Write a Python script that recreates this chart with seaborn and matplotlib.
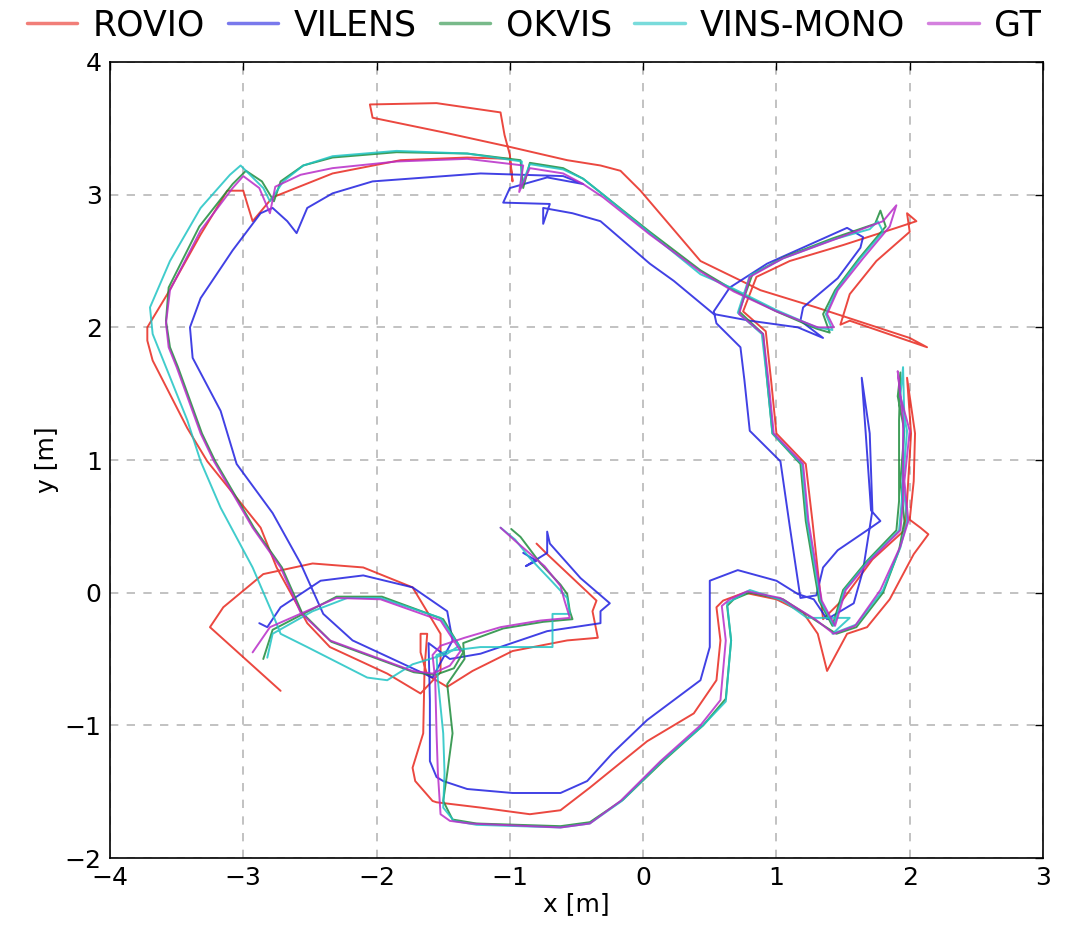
import pandas as pd
import matplotlib
matplotlib.use('Agg')
import matplotlib.pyplot as plt
import seaborn as sns

# trajectories, (x, y) in metres
rovio_xy = [
    (-0.80, 0.37), (-0.72, 0.29), (-0.35, -0.06), (-0.38, -0.14), (-0.34, -0.34), (-0.57, -0.36),
    (-0.98, -0.44), (-1.28, -0.59), (-1.47, -0.71), (-1.62, -0.62), (-1.67, -0.45), (-1.67, -0.31),
    (-1.62, -0.31), (-1.64, -0.57), (-1.65, -1.06), (-1.73, -1.32), (-1.71, -1.42), (-1.58, -1.57),
    (-1.55, -1.58), (-1.22, -1.62), (-0.85, -1.67), (-0.62, -1.64), (-0.40, -1.47), (0.03, -1.12),
    (0.38, -0.91), (0.55, -0.66), (0.58, -0.36), (0.55, -0.11), (0.60, -0.06), (0.76, 0.0),
    (1.0, -0.05), (1.20, -0.15), (1.31, -0.31), (1.38, -0.59), (1.53, -0.31), (1.68, -0.26),
    (1.85, -0.05), (2.03, 0.29), (2.14, 0.44), (2.08, 0.49), (2.0, 0.55), (2.03, 0.84),
    (2.04, 1.20), (1.98, 1.62), (2.01, 1.20), (1.98, 0.69), (1.96, 0.47), (1.72, 0.25),
    (1.50, -0.05), (1.35, -0.20), (1.27, 0.54), (1.22, 0.97), (1.0, 1.2), (0.96, 1.60),
    (0.92, 1.97), (0.75, 2.12), (0.85, 2.38), (1.10, 2.50), (1.50, 2.62), (1.90, 2.75),
    (2.05, 2.80), (1.98, 2.86), (2.0, 2.72), (1.75, 2.50), (1.55, 2.25), (1.48, 2.02),
    (1.55, 2.05), (2.13, 1.85), (2.0, 1.92), (1.30, 2.15), (0.88, 2.28), (0.43, 2.50),
    (-0.02, 3.03), (-0.17, 3.18), (-0.32, 3.22), (-0.57, 3.26), (-1.0, 3.36), (-1.5, 3.47),
    (-2.03, 3.58), (-2.05, 3.68), (-1.55, 3.69), (-1.07, 3.62), (-1.04, 3.45), (-1.0, 3.30),
    (-0.98, 3.10), (-1.0, 3.27), (-1.32, 3.28), (-1.82, 3.26), (-2.33, 3.16), (-2.78, 2.98),
    (-2.93, 2.80), (-2.97, 2.93), (-3.0, 3.03), (-3.12, 3.03), (-3.32, 2.70), (-3.57, 2.25),
    (-3.72, 2.0), (-3.72, 1.90), (-3.68, 1.75), (-3.42, 1.24), (-3.27, 0.99), (-2.87, 0.49),
    (-2.75, 0.19), (-2.52, -0.23), (-2.35, -0.41), (-1.92, -0.61), (-1.67, -0.76), (-1.52, -0.60),
    (-1.52, -0.31), (-1.73, 0.04), (-2.10, 0.19), (-2.48, 0.22), (-2.85, 0.14), (-3.15, -0.11),
    (-3.25, -0.26), (-2.72, -0.74),
]

vilens_xy = [
    (-0.90, 0.30), (-0.80, 0.24), (-0.88, 0.20), (-0.72, 0.30), (-0.72, 0.46), (-0.70, 0.37),
    (-0.47, 0.11), (-0.25, -0.08), (-0.32, -0.14), (-0.32, -0.23), (-0.72, -0.29), (-1.22, -0.46),
    (-1.45, -0.50), (-1.61, -0.38), (-1.60, -0.81), (-1.60, -1.27), (-1.55, -1.39), (-1.50, -1.42),
    (-1.32, -1.48), (-0.98, -1.51), (-0.62, -1.51), (-0.42, -1.42), (-0.23, -1.21), (0.03, -0.96),
    (0.43, -0.66), (0.50, -0.41), (0.50, -0.04), (0.50, 0.09), (0.71, 0.17), (1.0, 0.09),
    (1.16, -0.01), (1.28, -0.05), (1.38, -0.20), (1.58, -0.08), (1.65, 0.17), (1.72, 0.62),
    (1.70, 1.20), (1.64, 1.62), (1.67, 1.20), (1.71, 0.62), (1.78, 0.54), (1.68, 0.47),
    (1.46, 0.32), (1.35, 0.19), (1.30, -0.02), (1.18, -0.04), (1.10, 0.50), (1.03, 0.99),
    (0.80, 1.22), (0.76, 1.60), (0.73, 1.85), (0.55, 2.03), (0.53, 2.12), (0.65, 2.30),
    (0.93, 2.48), (1.53, 2.75), (1.65, 2.68), (1.63, 2.60), (1.46, 2.37), (1.20, 2.15),
    (1.18, 2.05), (1.35, 1.92), (1.16, 2.0), (0.80, 2.05), (0.53, 2.10), (0.23, 2.35),
    (0.05, 2.48), (-0.32, 2.80), (-0.53, 2.86), (-0.75, 2.90), (-0.75, 2.78), (-0.70, 2.93),
    (-1.05, 2.94), (-1.0, 3.05), (-0.72, 3.13), (-0.45, 3.08), (-0.60, 3.14), (-1.22, 3.16),
    (-2.03, 3.10), (-2.33, 3.01), (-2.52, 2.90), (-2.60, 2.71), (-2.67, 2.80), (-2.78, 2.90),
    (-2.87, 2.86), (-3.08, 2.58), (-3.32, 2.22), (-3.40, 2.0), (-3.38, 1.77), (-3.17, 1.37),
    (-3.05, 0.97), (-2.78, 0.60), (-2.57, 0.22), (-2.40, -0.16), (-2.18, -0.36), (-1.73, -0.57),
    (-1.58, -0.64), (-1.43, -0.36), (-1.47, -0.14), (-1.73, 0.04), (-2.10, 0.13), (-2.42, 0.09),
    (-2.72, -0.11), (-2.82, -0.26), (-2.88, -0.23),
]

okvis_xy = [
    (-0.99, 0.48), (-0.92, 0.42), (-0.77, 0.22), (-0.62, 0.06), (-0.57, -0.01), (-0.55, -0.14),
    (-0.53, -0.20), (-0.75, -0.22), (-1.05, -0.27), (-1.35, -0.38), (-1.34, -0.50), (-1.47, -0.69),
    (-1.43, -1.06), (-1.47, -1.36), (-1.50, -1.57), (-1.43, -1.71), (-1.25, -1.74), (-0.62, -1.76),
    (-0.40, -1.73), (-0.15, -1.56), (0.15, -1.27), (0.45, -1.0), (0.62, -0.80), (0.66, -0.36),
    (0.63, -0.10), (0.68, -0.05), (0.80, 0.0), (1.05, -0.05), (1.31, -0.22), (1.45, -0.31),
    (1.60, -0.26), (1.80, 0.0), (1.92, 0.32), (1.96, 0.54), (1.93, 0.84), (1.96, 1.22),
    (1.91, 1.48), (1.93, 1.66), (1.92, 1.30), (1.92, 0.69), (1.90, 0.47), (1.68, 0.24),
    (1.50, 0.02), (1.42, -0.25), (1.32, -0.06), (1.22, 0.54), (1.18, 0.97), (0.97, 1.20),
    (0.93, 1.60), (0.90, 1.95), (0.72, 2.12), (0.82, 2.40), (1.06, 2.53), (1.42, 2.67),
    (1.74, 2.78), (1.78, 2.88), (1.82, 2.76), (1.62, 2.52), (1.44, 2.28), (1.35, 2.10),
    (1.40, 1.96), (1.30, 1.99), (1.0, 2.12), (0.68, 2.28), (0.43, 2.43), (0.05, 2.72),
    (-0.30, 3.0), (-0.45, 3.12), (-0.60, 3.20), (-0.85, 3.24), (-0.90, 3.05), (-0.92, 3.26),
    (-1.32, 3.31), (-1.85, 3.32), (-2.33, 3.28), (-2.55, 3.22), (-2.72, 3.10), (-2.77, 2.95),
    (-2.86, 3.10), (-2.98, 3.18), (-3.08, 3.08), (-3.33, 2.76), (-3.56, 2.30), (-3.58, 2.05),
    (-3.55, 1.85), (-3.49, 1.70), (-3.31, 1.20), (-3.21, 0.99), (-2.92, 0.49), (-2.71, 0.19),
    (-2.56, -0.15), (-2.34, -0.37), (-1.72, -0.60), (-1.56, -0.62), (-1.42, -0.57), (-1.35, -0.45),
    (-1.50, -0.20), (-1.96, -0.03), (-2.30, -0.03), (-2.78, -0.28), (-2.85, -0.50),
]

vins_xy = [
    (-1.07, 0.49), (-0.96, 0.40), (-0.85, 0.26), (-0.68, 0.08), (-0.57, -0.04), (-0.55, -0.16),
    (-0.68, -0.16), (-0.68, -0.41), (-1.22, -0.41), (-1.47, -0.44), (-1.55, -0.47), (-1.54, -0.66),
    (-1.50, -1.06), (-1.49, -1.36), (-1.50, -1.62), (-1.42, -1.72), (-1.25, -1.75), (-0.62, -1.77),
    (-0.40, -1.74), (-0.16, -1.57), (0.14, -1.27), (0.45, -1.0), (0.62, -0.82), (0.66, -0.36),
    (0.63, -0.08), (0.70, -0.04), (0.80, 0.02), (1.05, -0.06), (1.23, -0.19), (1.55, -0.19),
    (1.42, -0.31), (1.60, -0.24), (1.80, 0.02), (1.93, 0.34), (1.98, 0.54), (1.95, 0.84),
    (1.98, 1.22), (1.93, 1.48), (1.95, 1.70), (1.96, 1.30), (1.94, 0.69), (1.92, 0.47),
    (1.69, 0.24), (1.51, 0.02), (1.43, -0.25), (1.33, -0.06), (1.23, 0.54), (1.19, 0.97),
    (0.97, 1.20), (0.93, 1.60), (0.89, 1.95), (0.71, 2.11), (0.80, 2.39), (1.05, 2.52),
    (1.42, 2.66), (1.70, 2.74), (1.76, 2.80), (1.80, 2.72), (1.63, 2.52), (1.45, 2.28),
    (1.37, 2.10), (1.42, 1.98), (1.30, 2.0), (1.0, 2.13), (0.68, 2.29), (0.43, 2.40),
    (0.05, 2.71), (-0.30, 3.0), (-0.45, 3.12), (-0.60, 3.19), (-0.85, 3.23), (-0.92, 3.05),
    (-0.91, 3.25), (-1.32, 3.31), (-1.85, 3.33), (-2.33, 3.29), (-2.55, 3.22), (-2.70, 3.10),
    (-2.80, 2.95), (-2.85, 3.05), (-3.02, 3.22), (-3.10, 3.15), (-3.32, 2.90), (-3.55, 2.50),
    (-3.70, 2.15), (-3.68, 1.95), (-3.60, 1.75), (-3.42, 1.30), (-3.32, 0.99), (-3.17, 0.64),
    (-2.93, 0.19), (-2.78, -0.16), (-2.72, -0.31), (-2.52, -0.41), (-2.07, -0.64), (-1.92, -0.66),
    (-1.73, -0.54), (-1.47, -0.46), (-1.38, -0.40), (-1.52, -0.19), (-1.97, -0.04), (-2.22, -0.04),
    (-2.48, -0.14), (-2.78, -0.31), (-2.82, -0.49),
]

gt_xy = [
    (-1.07, 0.49), (-0.96, 0.39), (-0.74, 0.20), (-0.62, 0.05), (-0.59, -0.06), (-0.55, -0.19),
    (-0.77, -0.21), (-1.07, -0.26), (-1.34, -0.34), (-1.52, -0.40), (-1.58, -0.47), (-1.56, -0.66),
    (-1.55, -1.06), (-1.54, -1.36), (-1.52, -1.67), (-1.45, -1.72), (-1.30, -1.74), (-0.62, -1.77),
    (-0.40, -1.74), (-0.17, -1.57), (0.13, -1.27), (0.43, -1.0), (0.58, -0.81), (0.62, -0.36),
    (0.59, -0.10), (0.65, -0.05), (0.78, 0.01), (1.03, -0.04), (1.29, -0.20), (1.43, -0.31),
    (1.59, -0.25), (1.78, 0.02), (1.93, 0.35), (1.99, 0.54), (1.96, 0.84), (2.0, 1.22),
    (1.93, 1.48), (1.91, 1.67), (1.95, 1.30), (1.95, 0.69), (1.93, 0.47), (1.70, 0.24),
    (1.52, 0.02), (1.44, -0.25), (1.34, -0.06), (1.24, 0.54), (1.20, 0.97), (0.98, 1.20),
    (0.94, 1.60), (0.90, 1.95), (0.72, 2.10), (0.80, 2.38), (1.05, 2.52), (1.43, 2.66),
    (1.80, 2.80), (1.90, 2.92), (1.85, 2.76), (1.65, 2.52), (1.46, 2.28), (1.38, 2.10),
    (1.43, 2.0), (1.31, 2.0), (1.0, 2.12), (0.68, 2.27), (0.43, 2.42), (0.05, 2.70),
    (-0.30, 2.98), (-0.45, 3.08), (-0.60, 3.16), (-0.85, 3.20), (-0.93, 3.02), (-0.90, 3.22),
    (-1.32, 3.27), (-1.85, 3.25), (-2.33, 3.20), (-2.57, 3.15), (-2.76, 3.06), (-2.80, 2.86),
    (-2.88, 3.05), (-3.0, 3.14), (-3.08, 3.05), (-3.32, 2.73), (-3.55, 2.28), (-3.58, 2.03),
    (-3.56, 1.85), (-3.50, 1.70), (-3.32, 1.20), (-3.22, 0.99), (-2.93, 0.49), (-2.72, 0.19),
    (-2.57, -0.15), (-2.35, -0.36), (-1.73, -0.59), (-1.58, -0.61), (-1.45, -0.55), (-1.37, -0.44),
    (-1.52, -0.21), (-1.97, -0.05), (-2.30, -0.04), (-2.80, -0.26), (-2.93, -0.45),
]

methods = ['ROVIO', 'VILENS', 'OKVIS', 'VINS-MONO', 'GT']
colors = ['#e8281e', '#2020e0', '#1e8c3c', '#20c4c4', '#b82cc8']
x_ticks = [-4, -3, -2, -1, 0, 1, 2, 3]
y_ticks = [-2, -1, 0, 1, 2, 3, 4]

frames = []
for name, pts in zip(methods, [rovio_xy, vilens_xy, okvis_xy, vins_xy, gt_xy]):
    d = pd.DataFrame(pts, columns=['x', 'y'])
    d['method'] = name
    frames.append(d)
df = pd.concat(frames, ignore_index=True)

sns.set_style('white')
plt.rcParams['font.family'] = ['DejaVu Sans']
plt.rcParams['text.color'] = 'black'
plt.rcParams['axes.labelcolor'] = 'black'
plt.rcParams['xtick.color'] = 'black'
plt.rcParams['ytick.color'] = 'black'

fig = plt.figure(figsize=(10.66, 9.38), dpi=100)
ax = fig.add_axes([110 / 1066, 1 - 858 / 938, (1043 - 110) / 1066, (858 - 62) / 938])

sns.lineplot(data=df, x='x', y='y', hue='method', hue_order=methods,
             palette=colors, sort=False, estimator=None, linewidth=1.4,
             alpha=0.85, ax=ax)

ax.set_xlim(-4, 3)
ax.set_ylim(-2, 4)
ax.set_xticks(x_ticks)
ax.set_yticks(y_ticks)
ax.grid(True, color='#b8b8b8', linestyle=(0, (5, 5)), linewidth=1.2)
ax.tick_params(direction='in', length=6, width=1, top=True, right=True,
               labelsize=18, pad=6, colors='black')
for s in ax.spines.values():
    s.set_color('black')
    s.set_linewidth(1.2)
ax.set_xlabel('x [m]', fontsize=18, labelpad=1, color='black')
ax.set_ylabel('y [m]', fontsize=18, labelpad=4, color='black')

h, l = ax.get_legend_handles_labels()
ax.get_legend().remove()
leg = fig.legend(h, l, loc='center', bbox_to_anchor=(0.501, 1 - 25 / 938),
                 ncol=5, frameon=False, fontsize=25, handlelength=1.45,
                 handletextpad=0.45, columnspacing=0.65, borderaxespad=0)
for t in leg.get_texts():
    t.set_color('black')
for lh in leg.legend_handles:
    lh.set_linewidth(2.5)
    lh.set_alpha(0.6)

fig.savefig('out.png', dpi=100)
